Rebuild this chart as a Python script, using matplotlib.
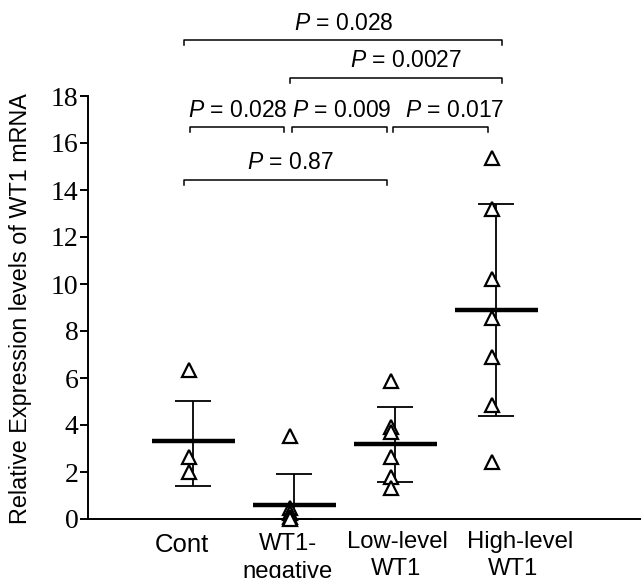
import matplotlib
matplotlib.use("Agg")
import matplotlib.pyplot as plt
import numpy as np

plt.rcParams['font.family'] = ['Liberation Sans', 'DejaVu Sans']
plt.rcParams['mathtext.fontset'] = 'custom'
plt.rcParams['mathtext.it'] = 'Liberation Sans:italic'
plt.rcParams['mathtext.rm'] = 'Liberation Sans'

# ---------------- data ----------------
categories = ["Cont", "WT1-\nnegative", "Low-level\nWT1", "High-level\nWT1"]
cont_vals = [6.34, 2.65, 2.0]
neg_vals = [3.53, 0.45, 0.25, 0.1, 0.0]
low_vals = [5.89, 3.9, 3.7, 2.65, 1.8, 1.3]
high_vals = [15.35, 13.2, 10.2, 8.54, 6.9, 4.85, 2.44]
means = [3.32, 0.61, 3.2, 8.89]
sd_upper = [5.02, 1.91, 4.75, 13.4]
sd_lower = [1.42, 0.0, 1.59, 4.38]
yticks = [0, 2, 4, 6, 8, 10, 12, 14, 16, 18]
comparisons = [  # (group a, group b, p-value text)
    (0, 3, "0.028"),
    (1, 3, "0.0027"),
    (0, 1, "0.028"),
    (1, 2, "0.009"),
    (2, 3, "0.017"),
    (0, 2, "0.87"),
]

# ---------------- layout ----------------
fig = plt.figure(figsize=(6.41, 5.78), dpi=100)
ax = fig.add_axes([88/641, 59/578, 1 - 88/641, (519-96)/578])
ax.set_xlim(-1.04, 4.43)
ax.set_ylim(0, 18)

groups = [cont_vals, neg_vals, low_vals, high_vals]
xs = np.arange(len(groups))
for i, vals in enumerate(groups):
    ax.plot(np.full(len(vals), xs[i] - 0.04), vals, linestyle='none', marker='^',
            markersize=9.5, markerfacecolor='white', markeredgecolor='black',
            markeredgewidth=1.6, zorder=3, clip_on=False)

# mean lines
ax.hlines(means, xs - 0.41, xs + 0.41, colors='black', linewidth=3.2, zorder=4)
# SD bars
yerr = [np.array(means) - np.array(sd_lower), np.array(sd_upper) - np.array(means)]
ax.errorbar(xs, means, yerr=yerr, fmt='none', ecolor='black', elinewidth=1.3,
            capsize=13, capthick=1.3, zorder=2)

# significance brackets (annotation layout)
bracket_y = [20.38, 18.77, 16.68, 16.68, 16.68, 14.43]
bracket_x = [(-0.09, 3.06), (0.96, 3.06), (-0.03, 0.90), (0.98, 1.92), (1.98, 2.92), (-0.09, 1.92)]
text_dx = [1.49, 2.11, 0.44, 1.47, 2.59, 0.96]
drop = 0.21
for (a, b, p), y, (x0, x1), tx in zip(comparisons, bracket_y, bracket_x, text_dx):
    ax.plot([x0, x0, x1, x1], [y - drop, y, y, y - drop], color='black',
            linewidth=1.1, clip_on=False)
    ax.text(tx, y + 0.72, r"$P$ = " + p, ha='center', va='center', fontsize=16.5,
            clip_on=False)

# axes styling
for s in ['top', 'right']:
    ax.spines[s].set_visible(False)
ax.spines['left'].set_linewidth(1.4)
ax.spines['bottom'].set_linewidth(1.4)
ax.set_yticks(yticks)
ax.set_yticklabels([str(t) for t in yticks], family='Liberation Serif', fontsize=20)
ax.tick_params(axis='y', direction='out', length=6, width=1.4, pad=1)
ax.set_xticks([])

# category labels: each line placed separately as in the reference
line_dx = [(-0.114,), (-0.064, -0.064), (0.02, 0.01), (0.23, 0.16)]
line_y = [(-1.40,), (-1.32, -2.51), (-1.23, -2.38), (-1.23, -2.38)]
line_sizes = [18.5, 17.2, 17.2, 17.2]
for i, cat in enumerate(categories):
    for k, part in enumerate(cat.split("\n")):
        ax.text(xs[i] + line_dx[i][k], line_y[i][k], part,
                ha='center', va='baseline', fontsize=line_sizes[i], clip_on=False)

fig.text(21/641, 1 - 309/578, "Relative Expression levels of WT1 mRNA",
         rotation=90, ha='center', va='center', fontsize=16.8)

fig.savefig("out.png", dpi=100)
